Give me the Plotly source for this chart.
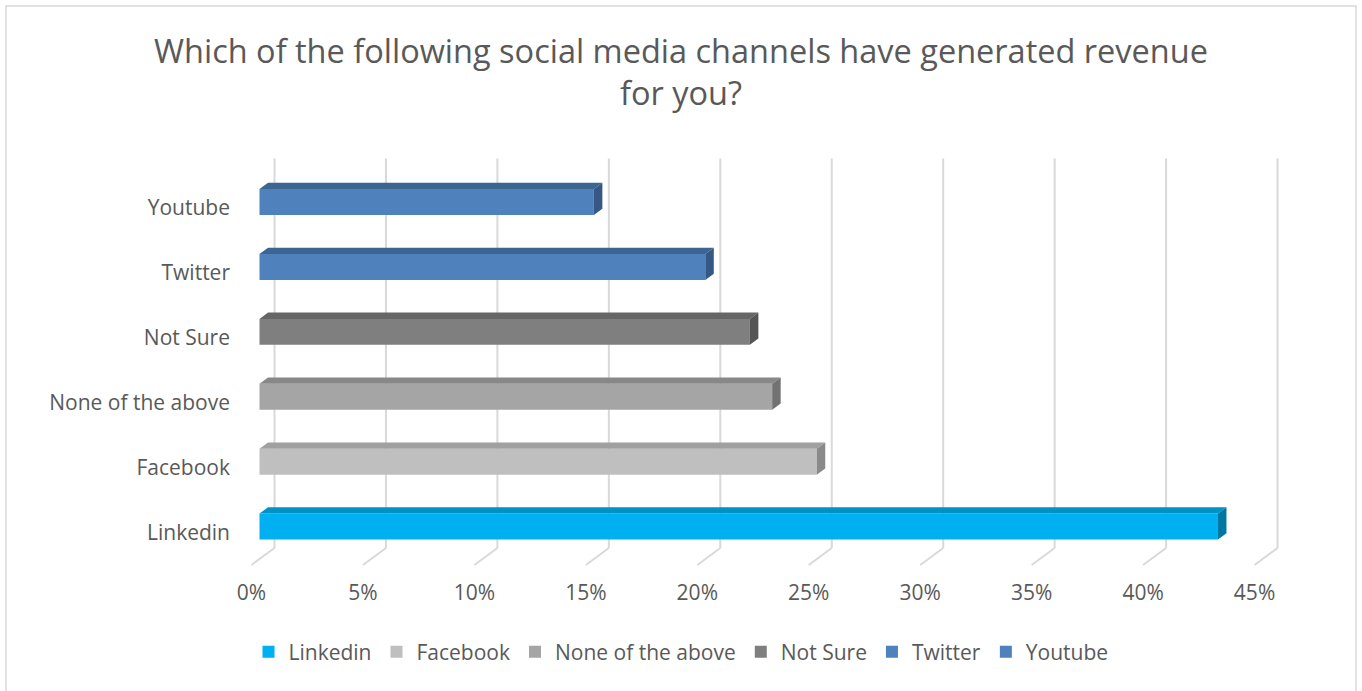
import plotly.graph_objects as go

# ---- data ----
categories = ["Linkedin", "Facebook", "None of the above", "Not Sure", "Twitter", "Youtube"]
values = [43, 25, 23, 22, 20, 15]
tick_values = [0, 5, 10, 15, 20, 25, 30, 35, 40, 45]
tick_labels = ["0%", "5%", "10%", "15%", "20%", "25%", "30%", "35%", "40%", "45%"]
front_colors = ["#00B0F0", "#BFBFBF", "#A5A5A5", "#7F7F7F", "#4F81BD", "#4F81BD"]
top_colors = ["#0091C6", "#A0A0A0", "#888888", "#666666", "#3D6592", "#3D6592"]
side_colors = ["#0077A2", "#8A8A8A", "#727272", "#555555", "#355884", "#355884"]

# ---- pixel geometry (layout only) ----
W, H = 1362, 691
X0PX, XS = 251.5, 22.29      # front-plane 0% position, px per %
Y0PX, YS = 532.5, 64.9       # category 0 (front plane), px per category
DX, DY = 23 / XS, 17 / YS    # full depth offset in data units
D_FRONT = 8 / 23             # bar front face depth fraction
D_BAR = 8.5 / 23             # bar thickness depth fraction
HALF = 0.2                   # half bar height

PL, PR, PT, PB = 238, 1292, 140, 578
xr = [(PL - X0PX) / XS, (PR - X0PX) / XS]
yr = [(Y0PX - PB) / YS, (Y0PX - PT) / YS]

fig = go.Figure()

# gridlines (back wall + floor) as shapes below the bars
shapes = []
for v in tick_values:
    shapes.append(dict(type="line", xref="x", yref="y", layer="below",
                       x0=v + DX, x1=v + DX, y0=len(categories) - 0.5 + DY, y1=-0.5 + DY,
                       line=dict(color="#D9D9D9", width=2)))
    shapes.append(dict(type="line", xref="x", yref="y", layer="below",
                       x0=v + DX, x1=v, y0=-0.5 + DY, y1=-0.5,
                       line=dict(color="#D9D9D9", width=2)))
shapes.append(dict(type="rect", xref="paper", yref="paper",
                   x0=(6 - PL) / (PR - PL), x1=(1356 - PL) / (PR - PL),
                   y0=(H - PB - 690) / (PB - PT), y1=(PB - 6) / (PB - PT),
                   line=dict(color="#D9D9D9", width=1.5), layer="below"))

for i, (cat, v) in enumerate(zip(categories, values)):
    yc = i + D_FRONT * DY
    x0 = D_FRONT * DX
    x1 = x0 + v
    ox, oy = D_BAR * DX, D_BAR * DY
    # top face
    fig.add_trace(go.Scatter(
        x=[x0, x0 + ox, x1 + ox, x1, x0],
        y=[yc + HALF, yc + HALF + oy, yc + HALF + oy, yc + HALF, yc + HALF],
        fill="toself", fillcolor=top_colors[i], mode="lines", line=dict(width=0),
        showlegend=False, hoverinfo="skip"))
    # side face
    fig.add_trace(go.Scatter(
        x=[x1, x1, x1 + ox, x1 + ox, x1],
        y=[yc - HALF, yc + HALF, yc + HALF + oy, yc - HALF + oy, yc - HALF],
        fill="toself", fillcolor=side_colors[i], mode="lines", line=dict(width=0),
        showlegend=False, hoverinfo="skip"))
    # front face
    fig.add_trace(go.Bar(
        y=[yc], x=[v], base=[x0], width=[2 * HALF], orientation="h",
        marker=dict(color=front_colors[i], line=dict(width=0)),
        name=cat, legendrank=i + 1, hovertemplate=cat + ": %{x}%<extra></extra>"))

fig.update_layout(
    width=W, height=H,
    margin=dict(l=PL, r=W - PR, t=PT, b=H - PB),
    paper_bgcolor="white", plot_bgcolor="white",
    barmode="overlay",
    font=dict(family="Open Sans", color="#595959"),
    title=dict(text="Which of the following social media channels have generated revenue<br>for you?",
               x=0.5, xanchor="center", y=1 - 63 / H, yanchor="top",
               font=dict(size=32.5, color="#595959", family="Open Sans")),
    xaxis=dict(range=xr, showgrid=False, zeroline=False, showline=False,
               tickvals=tick_values, ticktext=tick_labels, ticks="",
               tickfont=dict(size=21, color="#595959"), fixedrange=True),
    yaxis=dict(range=yr, showgrid=False, zeroline=False, showline=False,
               tickvals=list(range(len(categories))), ticktext=categories, ticks="",
               ticklabelstandoff=7,
               tickfont=dict(size=21, color="#595959"), fixedrange=True),
    legend=dict(orientation="h", x=0.5, xanchor="center", xref="container",
                y=1 - 652 / H, yanchor="middle", yref="container",
                font=dict(size=21, color="#595959"), traceorder="normal"),
    shapes=shapes,
)

fig.write_html("out.html", config={"displayModeBar": False},
               post_script="document.body.style.margin='0';")
